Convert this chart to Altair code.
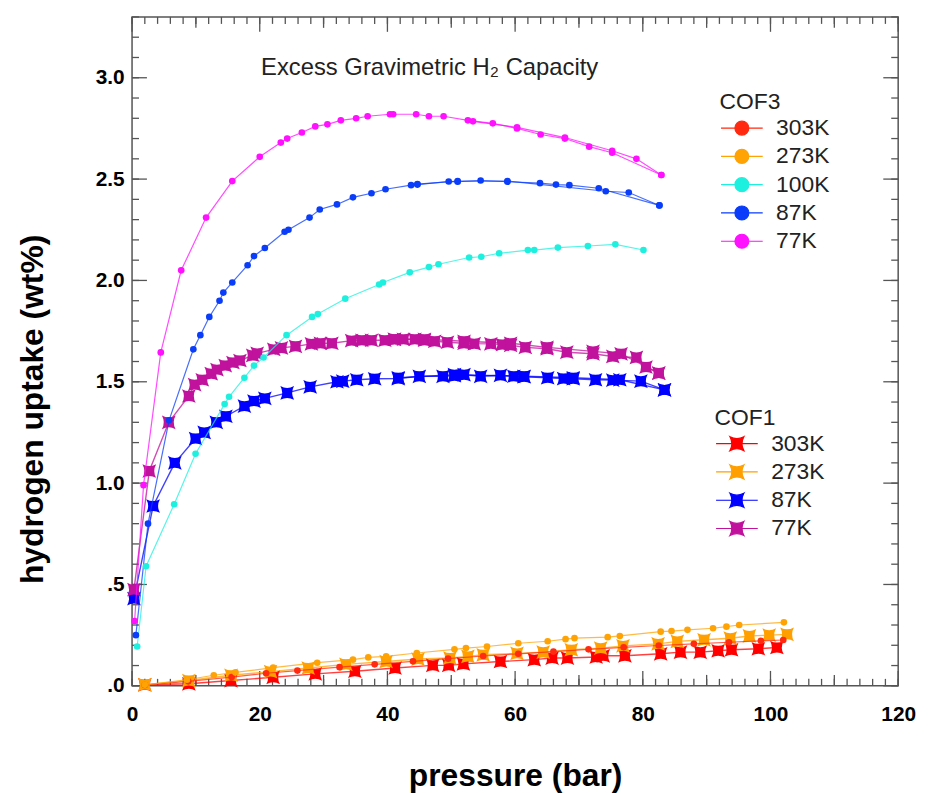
import altair as alt
import pandas as pd

# ---------------- data ----------------
# COF3 (circles)
cof3_77k_p = [0.4, 1.8, 4.5, 7.7, 11.6, 15.7, 20.0, 23.3, 24.3, 26.6, 28.7, 30.6, 32.7, 35.1, 36.9, 40.4, 40.9, 44.5, 46.5, 48.8, 52.6, 56.5, 60.3, 64.0, 67.8, 71.6, 75.2, 82.9]
cof3_77k_w = [0.32, 0.99, 1.645, 2.05, 2.31, 2.49, 2.61, 2.68, 2.70, 2.73, 2.76, 2.77, 2.79, 2.80, 2.81, 2.82, 2.82, 2.82, 2.81, 2.81, 2.79, 2.775, 2.75, 2.72, 2.70, 2.66, 2.63, 2.52]
cof3_77k_des_p = [82.9, 79.0, 75.2, 67.8, 60.3, 53.4]
cof3_77k_des_w = [2.52, 2.60, 2.64, 2.705, 2.755, 2.785]

cof3_87k_p = [0.6, 2.5, 5.8, 9.6, 10.7, 12.1, 13.7, 14.3, 15.7, 18.1, 19.1, 20.8, 23.9, 24.5, 27.8, 29.4, 32.1, 34.6, 37.5, 39.7, 43.7, 44.7, 49.6, 51.0, 54.6, 58.8, 63.9, 66.4, 68.5, 73.1, 82.6]
cof3_87k_w = [0.25, 0.80, 1.31, 1.66, 1.73, 1.82, 1.90, 1.94, 1.99, 2.075, 2.12, 2.16, 2.24, 2.25, 2.31, 2.35, 2.375, 2.41, 2.43, 2.45, 2.47, 2.473, 2.488, 2.487, 2.493, 2.487, 2.48, 2.473, 2.47, 2.455, 2.37]
cof3_87k_des_p = [82.6, 77.8, 74.2, 58.8, 51.0, 44.7]
cof3_87k_des_w = [2.37, 2.434, 2.44, 2.49, 2.49, 2.475]

cof3_100k_p = [0.8, 2.2, 6.6, 9.95, 14.5, 15.2, 17.6, 19.1, 20.6, 24.2, 28.2, 29.1, 33.4, 38.7, 39.3, 43.5, 46.5, 48.0, 52.8, 54.7, 57.5, 62.0, 63.0, 66.7, 71.4, 75.7, 80.1]
cof3_100k_w = [0.194, 0.59, 0.896, 1.145, 1.39, 1.426, 1.52, 1.58, 1.62, 1.73, 1.82, 1.834, 1.91, 1.98, 1.99, 2.04, 2.066, 2.08, 2.113, 2.117, 2.134, 2.15, 2.15, 2.162, 2.17, 2.178, 2.15]

cof3_273k_p = [2.0, 8.6, 12.8, 16.2, 22.1, 29.0, 34.6, 37.0, 39.8, 44.6, 50.5, 52.3, 55.6, 60.5, 65.1, 67.9, 69.3, 74.5, 76.4, 82.8, 84.5, 87.0, 91.0, 93.1, 95.1, 102.1]
cof3_273k_w = [0.005, 0.03, 0.052, 0.066, 0.09, 0.114, 0.129, 0.14, 0.145, 0.162, 0.18, 0.186, 0.194, 0.21, 0.22, 0.23, 0.235, 0.24, 0.246, 0.267, 0.27, 0.276, 0.284, 0.292, 0.30, 0.313]

cof3_303k_p = [2.0, 8.8, 15.6, 21.0, 25.9, 32.5, 38.0, 44.0, 49.5, 55.0, 60.5, 66.0, 71.5, 77.0, 82.5, 88.0, 93.5, 98.5, 102.0]
cof3_303k_w = [0.004, 0.022, 0.043, 0.062, 0.075, 0.092, 0.106, 0.121, 0.134, 0.147, 0.158, 0.169, 0.18, 0.19, 0.199, 0.207, 0.215, 0.222, 0.226]

# COF1 (four-pointed stars)
cof1_77k_p = [0.3, 2.7, 5.75, 8.9, 9.8, 11.0, 12.4, 13.3, 14.6, 15.8, 16.9, 18.9, 19.6, 22.2, 23.4, 25.6, 28.1, 29.5, 31.3, 34.4, 36.0, 37.5, 39.6, 41.1, 42.5, 44.3, 45.8, 47.4, 49.4, 52.0, 53.6, 56.2, 58.0, 59.3, 61.6, 65.0, 68.1, 72.2, 75.3, 79.0, 80.5, 82.5]
cof1_77k_w = [0.475, 1.06, 1.30, 1.43, 1.486, 1.51, 1.54, 1.56, 1.58, 1.595, 1.605, 1.63, 1.64, 1.66, 1.667, 1.675, 1.687, 1.69, 1.69, 1.703, 1.705, 1.705, 1.705, 1.71, 1.71, 1.71, 1.705, 1.70, 1.695, 1.69, 1.688, 1.687, 1.684, 1.68, 1.67, 1.663, 1.646, 1.638, 1.625, 1.62, 1.573, 1.543]
cof1_77k_des_p = [82.5, 76.6, 72.2, 65.0, 59.3, 52.0, 45.8, 41.1]
cof1_77k_des_w = [1.543, 1.638, 1.65, 1.67, 1.69, 1.70, 1.71, 1.71]

cof1_87k_p = [0.3, 3.3, 6.7, 9.95, 11.3, 13.2, 14.7, 17.6, 19.1, 20.8, 24.3, 27.9, 32.1, 33.0, 35.2, 38.0, 41.7, 45.0, 48.7, 50.5, 52.0, 54.6, 57.7, 59.8, 61.4, 65.1, 67.6, 69.1, 72.6, 75.3, 79.7, 83.4]
cof1_87k_w = [0.43, 0.887, 1.10, 1.22, 1.25, 1.30, 1.33, 1.38, 1.405, 1.418, 1.445, 1.475, 1.50, 1.503, 1.51, 1.515, 1.516, 1.527, 1.527, 1.53, 1.535, 1.527, 1.532, 1.527, 1.525, 1.52, 1.516, 1.515, 1.51, 1.508, 1.503, 1.46]
cof1_87k_des_p = [83.4, 76.4, 69.1, 61.4, 50.5, 41.7]
cof1_87k_des_w = [1.46, 1.51, 1.52, 1.527, 1.535, 1.52]

cof1_273k_p = [2.0, 8.9, 15.5, 21.7, 27.6, 33.5, 39.8, 44.8, 49.8, 52.6, 55.0, 60.3, 64.4, 68.8, 73.4, 76.9, 82.4, 85.4, 89.6, 93.7, 96.7, 99.8, 102.6]
cof1_273k_w = [0.006, 0.026, 0.052, 0.07, 0.088, 0.106, 0.12, 0.132, 0.137, 0.145, 0.153, 0.16, 0.166, 0.178, 0.186, 0.197, 0.207, 0.219, 0.227, 0.235, 0.246, 0.25, 0.254]

cof1_303k_p = [2.0, 8.9, 15.5, 22.1, 28.7, 34.9, 41.2, 47.1, 49.6, 51.9, 57.7, 63.0, 65.8, 68.2, 72.7, 73.8, 77.2, 82.8, 85.9, 89.0, 91.8, 93.9, 98.1, 101.0]
cof1_303k_w = [0.005, 0.01, 0.026, 0.042, 0.059, 0.072, 0.088, 0.101, 0.101, 0.108, 0.12, 0.129, 0.137, 0.137, 0.142, 0.148, 0.148, 0.158, 0.166, 0.166, 0.173, 0.178, 0.183, 0.189]

cof3_temps = ["303K", "273K", "100K", "87K", "77K"]
cof3_colors = ["#ff2a10", "#ffa305", "#1ef0df", "#0a3dfa", "#ff10ff"]
cof1_temps = ["303K", "273K", "87K", "77K"]
cof1_colors = ["#ff0000", "#ffa000", "#0000ff", "#c0129c"]

x_label_values = [0, 20, 40, 60, 80, 100, 120]
y_label_values = [0.0, 0.5, 1.0, 1.5, 2.0, 2.5, 3.0]
y_label_texts = [".0", ".5", "1.0", "1.5", "2.0", "2.5", "3.0"]
x_minor_ticks = list(range(0, 121, 2))
x_mid_ticks = list(range(10, 120, 20))
x_major_ticks = x_label_values
y_minor_ticks = [round(0.1 * i, 1) for i in range(0, 34)]
y_major_ticks = y_label_values

title_text = "Excess Gravimetric H\u2082 Capacity"
x_title = "pressure (bar)"
y_title = "hydrogen uptake (wt%)"

# ---------------- build tables ----------------
series = [
    ("COF1", "303K", "ads", cof1_303k_p, cof1_303k_w),
    ("COF1", "273K", "ads", cof1_273k_p, cof1_273k_w),
    ("COF1", "87K", "ads", cof1_87k_p, cof1_87k_w),
    ("COF1", "87K", "des", cof1_87k_des_p, cof1_87k_des_w),
    ("COF1", "77K", "ads", cof1_77k_p, cof1_77k_w),
    ("COF1", "77K", "des", cof1_77k_des_p, cof1_77k_des_w),
    ("COF3", "303K", "ads", cof3_303k_p, cof3_303k_w),
    ("COF3", "273K", "ads", cof3_273k_p, cof3_273k_w),
    ("COF3", "100K", "ads", cof3_100k_p, cof3_100k_w),
    ("COF3", "87K", "ads", cof3_87k_p, cof3_87k_w),
    ("COF3", "87K", "des", cof3_87k_des_p, cof3_87k_des_w),
    ("COF3", "77K", "ads", cof3_77k_p, cof3_77k_w),
    ("COF3", "77K", "des", cof3_77k_des_p, cof3_77k_des_w),
]
rows = []
for mat, temp, branch, ps, ws in series:
    for i, (p, w) in enumerate(zip(ps, ws)):
        rows.append({"mat": mat, "temp": temp, "key": f"{mat}-{temp}-{branch}", "P": p, "w": w, "i": i})
df = pd.DataFrame(rows)
df1 = df[df.mat == "COF1"]
df3 = df[df.mat == "COF3"]

# ---------------- styling ----------------
FONT = "Liberation Sans, Arial, sans-serif"
W, H = 772, 674
TICK = "#555555"

xs = alt.Scale(domain=[0, 120], nice=False, zero=False)
ys = alt.Scale(domain=[0, 3.3], nice=False, zero=False)

y_expr = "{" + ", ".join(f"'{v:.1f}': '{t}'" for v, t in zip(y_label_values, y_label_texts)) + "}[format(datum.value, '.1f')]"

x_axis = alt.Axis(values=x_label_values, ticks=False, domain=False, grid=False,
                  labelFont=FONT, labelFontSize=21, labelFontWeight="bold", labelColor="black",
                  labelPadding=18, labelFlush=False,
                  titleFont=FONT, titleFontSize=32, titleFontWeight="bold", titleColor="black",
                  titlePadding=36)
y_axis = alt.Axis(values=y_label_values, labelExpr=y_expr, ticks=False, domain=False, grid=False,
                  labelFont=FONT, labelFontSize=21, labelFontWeight="bold", labelColor="black",
                  labelPadding=8, labelFlush=False,
                  titleFont=FONT, titleFontSize=32, titleFontWeight="bold", titleColor="black",
                  titlePadding=46, titleY=395)

X = lambda f: alt.X(f, scale=xs, axis=x_axis, title=x_title)
Y = lambda f: alt.Y(f, scale=ys, axis=y_axis, title=y_title)


def x_ticks(vals, length, top):
    enc = {"x": X("v:Q")}
    if top:
        enc.update(y=alt.value(0), y2=alt.value(length))
    else:
        enc.update(y=alt.value(H), y2=alt.value(H - length))
    return alt.Chart(pd.DataFrame({"v": vals})).mark_rule(color=TICK, strokeWidth=1.3).encode(**enc)


def y_ticks(vals, length, right):
    enc = {"y": Y("v:Q")}
    if right:
        enc.update(x=alt.value(W), x2=alt.value(W - length))
    else:
        enc.update(x=alt.value(0), x2=alt.value(length))
    return alt.Chart(pd.DataFrame({"v": vals})).mark_rule(color=TICK, strokeWidth=1.3).encode(**enc)


ticks = [
    x_ticks(x_minor_ticks, 7, False), x_ticks(x_mid_ticks, 11, False), x_ticks(x_major_ticks, 15, False),
    x_ticks(x_minor_ticks, 7, True), x_ticks(x_mid_ticks, 11, True), x_ticks(x_major_ticks, 15, True),
    y_ticks(y_minor_ticks, 7, False), y_ticks(y_major_ticks, 15, False),
    y_ticks(y_minor_ticks, 7, True), y_ticks(y_major_ticks, 15, True),
]

STAR = "M-1,-1Q0,-0.45,1,-1Q0.45,0,1,1Q0,0.45,-1,1Q-0.45,0,-1,-1Z"
# legend symbols: unit = 10 px (symbolSize 400); line 42 px long, marker ~14 px
SYM3 = "M-1,0L3.2,0M0.4,0A0.7,0.7,0,1,0,1.8,0A0.7,0.7,0,1,0,0.4,0Z"
SYM1 = "M-1,0L3.2,0M0.4,-0.7Q1.1,-0.32,1.8,-0.7Q1.42,0,1.8,0.7Q1.1,0.32,0.4,0.7Q0.78,0,0.4,-0.7Z"


def legend(title, sym, lx, ly):
    return alt.Legend(title=title, orient="none", legendX=lx, legendY=ly,
                      symbolType=sym, symbolSize=400, symbolStrokeWidth=1.2, symbolOpacity=1,
                      labelFont=FONT, labelFontSize=23, labelColor="#222222", labelOffset=34,
                      titleFont=FONT, titleFontSize=23, titleFontWeight="normal", titleColor="#222222",
                      titlePadding=2.5, rowPadding=4.5, padding=0)


c3 = alt.Color("temp:N", scale=alt.Scale(domain=cof3_temps, range=cof3_colors),
               legend=legend("COF3", SYM3, 592, 75))
c1 = alt.Color("temp:N", scale=alt.Scale(domain=cof1_temps, range=cof1_colors),
               legend=legend("COF1", SYM1, 587, 393))

cof1_line = alt.Chart(df1).mark_line(strokeWidth=1.4, opacity=0.75).encode(
    x=X("P:Q"), y=Y("w:Q"), color=c1, detail="key:N", order="i:Q")
cof1_pts = alt.Chart(df1).mark_point(filled=True, shape=STAR, size=190, opacity=1).encode(
    x=X("P:Q"), y=Y("w:Q"), color=c1)
cof3_line = alt.Chart(df3).mark_line(strokeWidth=1.2, opacity=0.75).encode(
    x=X("P:Q"), y=Y("w:Q"), color=c3, detail="key:N", order="i:Q")
cof3_pts = alt.Chart(df3).mark_point(filled=True, shape="circle", size=45, opacity=1).encode(
    x=X("P:Q"), y=Y("w:Q"), color=c3)

cof1 = alt.layer(cof1_line, cof1_pts)
cof3 = alt.layer(cof3_line, cof3_pts)

title = alt.Chart(pd.DataFrame({"t": [title_text]})).mark_text(
    align="left", baseline="middle", font=FONT, fontSize=24, color="#222222"
).encode(x=alt.value(130), y=alt.value(52), text="t:N")

chart = alt.layer(*ticks, cof1, cof3, title).resolve_scale(color="independent").properties(
    width=W, height=H, padding={"left": 8, "right": 5, "top": 5, "bottom": 0}
).configure_view(stroke="#555555", strokeWidth=1.5)

chart.save("out.html", embed_options={"renderer": "svg", "actions": False})
